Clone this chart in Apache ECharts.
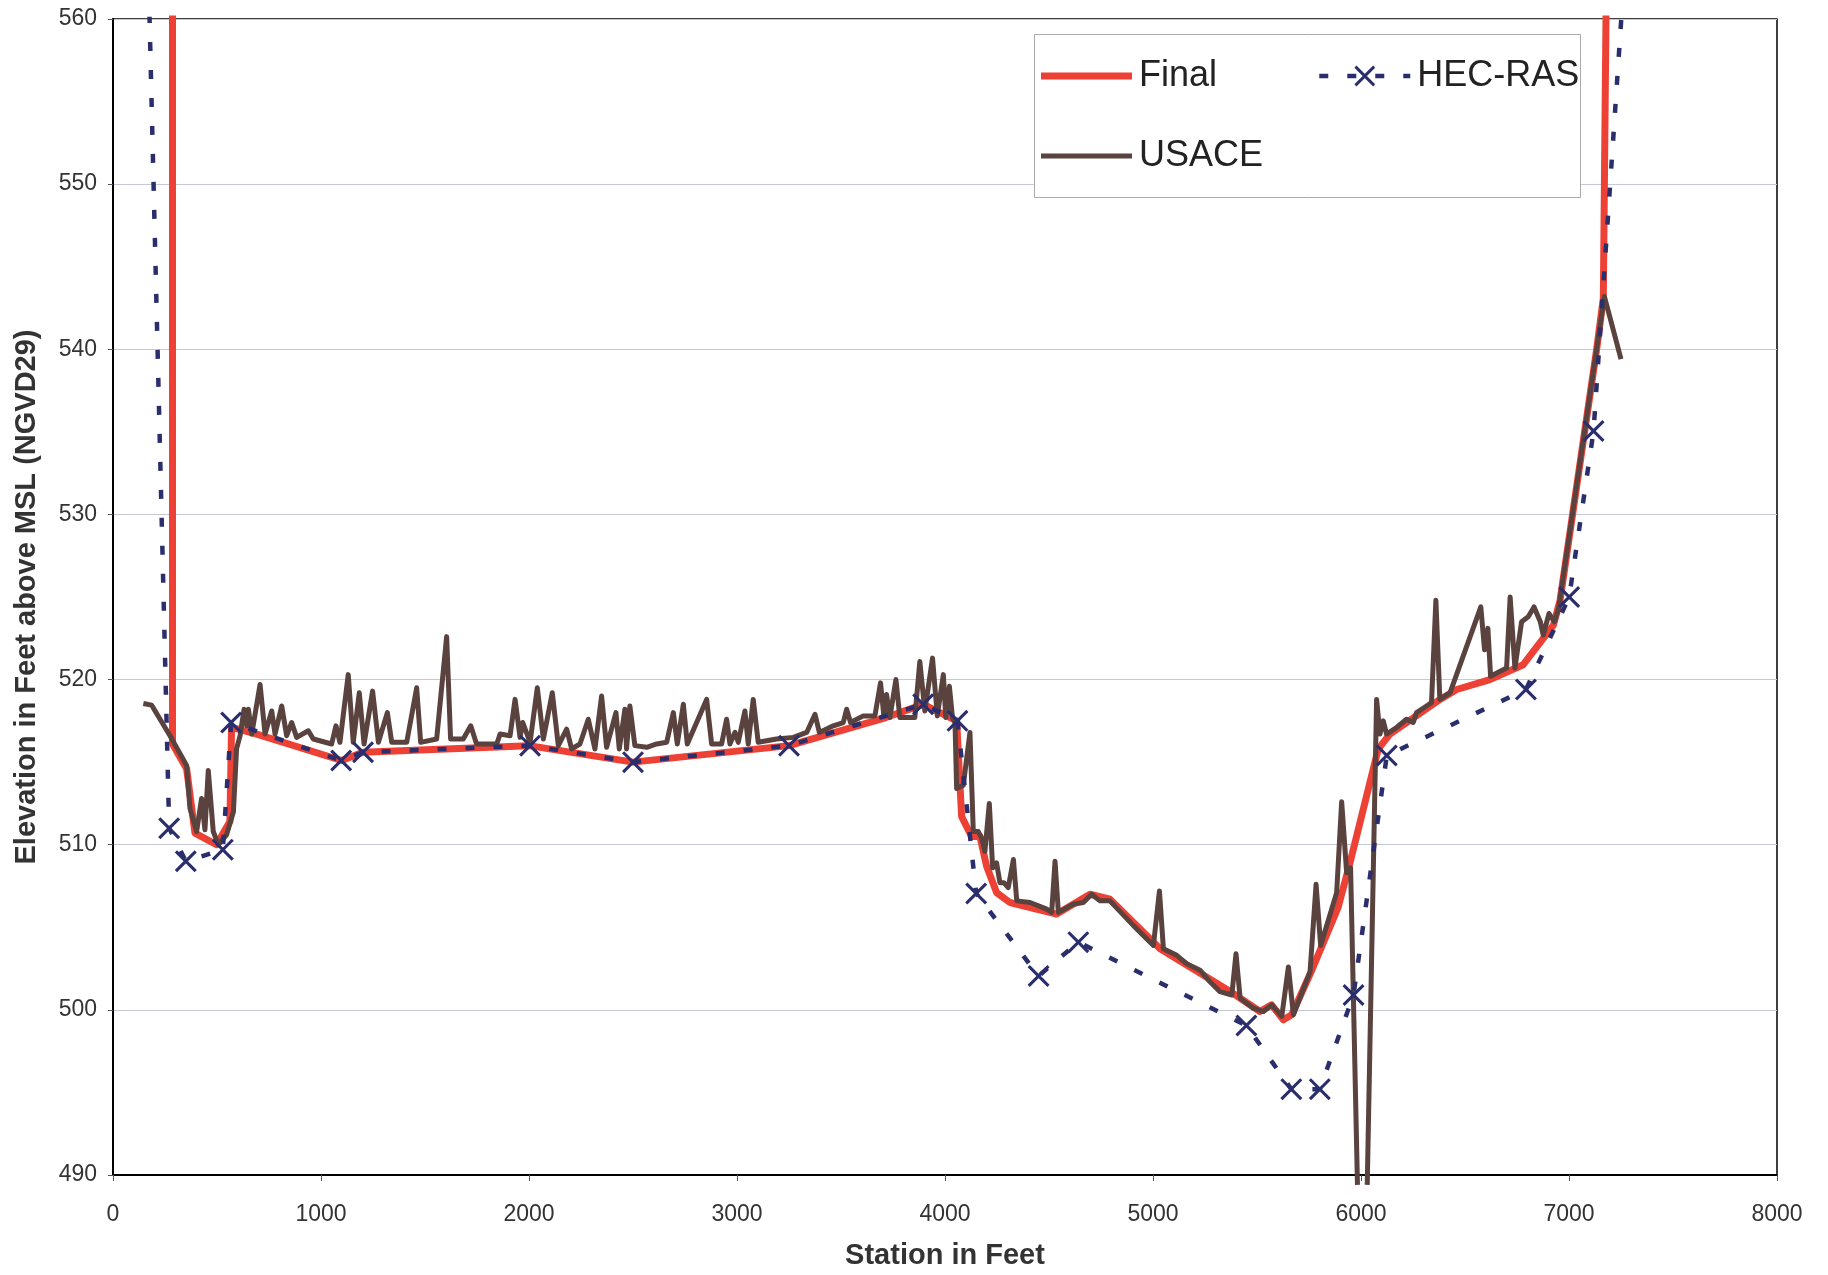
<!DOCTYPE html>
<html>
<head>
<meta charset="utf-8">
<script src="https://cdn.jsdelivr.net/npm/echarts@6/dist/echarts.min.js"></script>
<style>
html,body{margin:0;padding:0;background:#fff;}
#chart{width:1828px;height:1275px;}
</style>
</head>
<body>
<div id="chart"></div>
<script>
// ---- Data ----
const xTicks = [0, 1000, 2000, 3000, 4000, 5000, 6000, 7000, 8000];
const yTicks = [490, 500, 510, 520, 530, 540, 550, 560];

const finalX = [286, 286, 354, 394, 498, 562, 570, 691, 1099, 1202, 2000, 2500, 3250, 3716, 3896, 4056, 4080, 4128, 4168, 4200, 4248, 4312, 4537, 4697, 4793, 5034, 5385, 5514, 5570, 5627, 5667, 5760, 5890, 5947, 6083, 6139, 6380, 6460, 6620, 6780, 6925, 6957, 7133, 7165, 7180];
const finalY = [563, 516.1, 514.6, 510.7, 510.0, 511.4, 517.1, 516.7, 515.1, 515.6, 516.0, 515.0, 516.0, 517.7, 518.5, 517.5, 511.7, 510.5, 510.5, 508.7, 507.1, 506.5, 505.8, 507.0, 506.7, 503.7, 501.0, 499.9, 500.3, 499.4, 499.7, 502.3, 506.2, 508.9, 515.8, 516.7, 518.8, 519.4, 520.0, 520.9, 523.3, 524.8, 540.0, 543.1, 563];

const hecX = [172, 270, 350, 528, 568, 1097, 1202, 2005, 2500, 3250, 3895, 4060, 4150, 4450, 4641, 5449, 5665, 5802, 5964, 6124, 6793, 7001, 7118, 7262];
const hecY = [562, 511.0, 509.0, 509.7, 517.4, 515.1, 515.6, 516.0, 515.0, 516.0, 518.5, 517.5, 507.05, 502.05, 504.1, 499.05, 495.2, 495.2, 500.9, 515.4, 519.4, 525.0, 535.05, 562];

const usaceX = [146, 186, 274, 354, 370, 402, 426, 442, 458, 482, 506, 546, 579, 594, 611, 630, 643, 651, 667, 707, 731, 763, 779, 811, 835, 859, 883, 939, 963, 1051, 1072, 1091, 1131, 1155, 1184, 1207, 1248, 1276, 1319, 1340, 1412, 1460, 1479, 1556, 1604, 1623, 1684, 1720, 1748, 1845, 1861, 1909, 1933, 1957, 1970, 2005, 2040, 2069, 2112, 2141, 2181, 2205, 2245, 2285, 2317, 2349, 2373, 2418, 2434, 2461, 2469, 2485, 2509, 2566, 2614, 2662, 2694, 2713, 2742, 2761, 2854, 2878, 2926, 2950, 2966, 2990, 3006, 3038, 3054, 3078, 3102, 3190, 3271, 3335, 3375, 3396, 3463, 3511, 3527, 3546, 3607, 3663, 3690, 3706, 3719, 3735, 3764, 3783, 3855, 3879, 3903, 3940, 3963, 3992, 4004, 4021, 4036, 4048, 4056, 4088, 4120, 4136, 4160, 4176, 4192, 4213, 4229, 4248, 4264, 4283, 4304, 4329, 4345, 4409, 4489, 4513, 4529, 4545, 4617, 4665, 4705, 4745, 4793, 4906, 5002, 5031, 5050, 5114, 5162, 5226, 5274, 5322, 5379, 5399, 5419, 5483, 5531, 5571, 5619, 5651, 5675, 5755, 5784, 5806, 5883, 5907, 5931, 5950, 5983, 6005, 6030, 6075, 6091, 6107, 6123, 6171, 6219, 6251, 6267, 6315, 6339, 6360, 6379, 6428, 6576, 6594, 6610, 6623, 6700, 6717, 6740, 6772, 6804, 6832, 6862, 6876, 6904, 6930, 6950, 7170, 7250];
const usaceY = [518.55, 518.45, 516.6, 514.8, 512.2, 510.8, 512.8, 510.9, 514.5, 510.8, 510.0, 510.6, 512.0, 515.8, 516.6, 518.2, 517.2, 518.2, 516.7, 519.7, 516.7, 518.1, 516.7, 518.4, 516.6, 517.4, 516.5, 516.9, 516.4, 516.1, 517.2, 516.2, 520.3, 516.2, 519.2, 516.1, 519.3, 516.2, 518.0, 516.2, 516.2, 519.5, 516.2, 516.4, 522.6, 516.4, 516.4, 517.2, 516.1, 516.1, 516.7, 516.6, 518.8, 516.5, 517.4, 516.2, 519.5, 516.4, 519.2, 516.0, 517.0, 515.8, 516.1, 517.6, 515.8, 519.0, 515.9, 518.0, 515.8, 518.2, 515.8, 518.4, 516.0, 515.9, 516.1, 516.2, 518.0, 516.1, 518.5, 516.1, 518.8, 516.1, 516.1, 517.6, 516.1, 516.8, 516.2, 518.1, 516.1, 518.8, 516.2, 516.4, 516.5, 516.8, 517.9, 516.8, 517.2, 517.4, 518.2, 517.4, 517.8, 517.8, 519.8, 517.8, 519.1, 517.7, 520.0, 517.7, 517.7, 521.1, 518.1, 521.3, 517.8, 520.3, 517.7, 519.6, 517.7, 517.4, 513.4, 513.6, 516.8, 510.8, 510.8, 510.4, 509.6, 512.5, 508.6, 508.9, 507.7, 507.7, 507.4, 509.1, 506.6, 506.5, 506.1, 505.9, 509.0, 505.9, 506.4, 506.5, 507.0, 506.6, 506.6, 505.1, 503.9, 507.2, 503.7, 503.3, 502.8, 502.4, 501.7, 501.1, 500.9, 503.4, 500.7, 500.1, 499.9, 500.3, 499.6, 502.6, 499.7, 502.3, 507.6, 503.9, 507.1, 512.6, 508.3, 508.6, 489.4, null, 489.4, 518.8, 516.7, 517.5, 516.7, 517.1, 517.6, 517.4, 518.0, 518.4, 518.6, 524.8, 518.8, 519.2, 524.4, 521.8, 523.1, 520.2, 520.7, 525.0, 520.7, 523.5, 523.8, 524.4, 523.5, 522.7, 524.0, 523.5, 524.3, 543.2, 539.4];

// ---- Build series data ----
const finalData = finalX.map((x, i) => [x, finalY[i]]);
const hecData = hecX.map((x, i) => hecY[i] > 560 ? { value: [x, hecY[i]], symbol: 'none' } : [x, hecY[i]]);
const usaceData = usaceX.map((x, i) => [x, usaceY[i] === null ? '-' : usaceY[i]]);

const FONT = '"Liberation Sans", Arial, sans-serif';
const RED = '#ee4136';
const BROWN = '#5a423e';
const NAVY = '#2a2e6c';
const XPATH = 'path://M0,1L1,0L10,9L9,10Z M9,0L10,1L1,10L0,9Z';
const W_FINAL = 7, W_USACE = 5, W_HEC = 4.5;

const legendText = { fontFamily: FONT, fontSize: 36, color: '#222', lineHeight: 40, padding: [0, 0, 0, 2] };

const chart = echarts.init(document.getElementById('chart'), null, { renderer: 'canvas' });
chart.setOption({
  animation: false,
  backgroundColor: '#fff',
  grid: { left: 113, right: 51, top: 19, bottom: 94, show: true, borderColor: '#000', borderWidth: 1.5, backgroundColor: 'transparent' },
  xAxis: {
    type: 'value', min: xTicks[0], max: xTicks[xTicks.length - 1], interval: 1000,
    name: 'Station in Feet', nameLocation: 'middle', nameGap: 66,
    nameTextStyle: { fontFamily: FONT, fontSize: 29, fontWeight: 'bold', color: '#333' },
    axisLine: { show: true, onZero: false, lineStyle: { color: '#000', width: 2 } },
    axisTick: { show: true, length: 6, lineStyle: { color: '#555' } },
    axisLabel: { fontFamily: FONT, fontSize: 23, color: '#333', margin: 28, formatter: v => String(v) },
    splitLine: { show: false }
  },
  yAxis: {
    type: 'value', min: yTicks[0], max: yTicks[yTicks.length - 1], interval: 10,
    name: 'Elevation in Feet above MSL (NGVD29)', nameLocation: 'middle', nameGap: 72,
    nameTextStyle: { fontFamily: FONT, fontSize: 29, fontWeight: 'bold', color: '#333' },
    axisLine: { show: true, onZero: false, lineStyle: { color: '#000', width: 2 } },
    axisTick: { show: true, length: 5, lineStyle: { color: '#555' } },
    axisLabel: { fontFamily: FONT, fontSize: 23, color: '#333', margin: 16, formatter: v => String(v) },
    splitLine: { show: true, lineStyle: { color: '#c6c8d8', width: 1 } }
  },
  graphic: [{
    type: 'rect', left: 1034, top: 34, z: 3,
    shape: { width: 546, height: 163 },
    style: { fill: '#fff', stroke: '#aaa', lineWidth: 1 }
  }],
  legend: [{
    data: [
      { name: 'Final', icon: 'path://M0,0H91V' + W_FINAL + 'H0Z', itemStyle: { color: RED } },
      { name: 'HEC-RAS', lineStyle: { width: W_HEC } }
    ],
    left: 1041, top: 56, padding: 0, itemGap: 100,
    itemWidth: 91, itemHeight: 26, z: 5,
    lineStyle: { width: 'inherit' },
    textStyle: legendText
  }, {
    data: [
      { name: 'USACE', icon: 'path://M0,0H91V' + W_USACE + 'H0Z', itemStyle: { color: BROWN } }
    ],
    left: 1041, top: 136, padding: 0,
    itemWidth: 91, itemHeight: 26, z: 5,
    textStyle: legendText
  }],
  series: [{
    name: 'Final', type: 'line', data: finalData, showSymbol: false, symbol: 'none',
    lineStyle: { color: RED, width: W_FINAL, cap: 'butt', join: 'round' },
    itemStyle: { color: RED }, z: 2, clip: true
  }, {
    name: 'USACE', type: 'line', data: usaceData, showSymbol: false, symbol: 'none',
    connectNulls: false,
    lineStyle: { color: BROWN, width: W_USACE, join: 'round' },
    itemStyle: { color: BROWN }, z: 3, clip: false
  }, {
    name: 'HEC-RAS', type: 'line', data: hecData, symbol: XPATH, symbolSize: 22, showSymbol: true,
    lineStyle: { color: NAVY, width: W_HEC, type: [9, 19], cap: 'butt' },
    itemStyle: { color: NAVY }, z: 4, clip: true
  }]
});
</script>
</body>
</html>
